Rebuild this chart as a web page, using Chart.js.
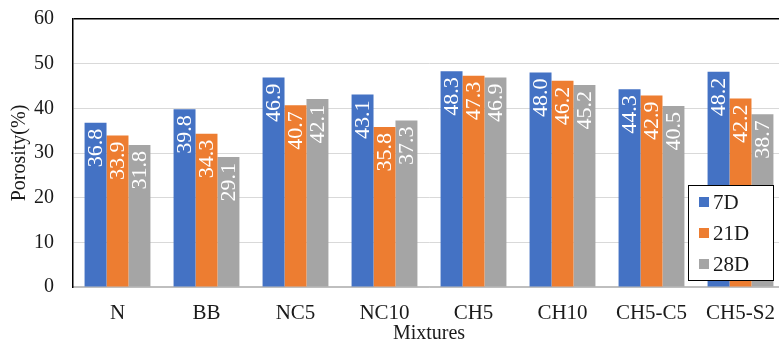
<!DOCTYPE html>
<html>
<head>
<meta charset="utf-8">
<script src="https://cdn.jsdelivr.net/npm/chart.js@4/dist/chart.umd.min.js"></script>
<style>
  html, body { margin: 0; padding: 0; background: #fff; overflow: hidden; }
  #wrap { width: 786px; height: 342px; }
</style>
</head>
<body>
<div id="wrap"><canvas id="c" width="786" height="342"></canvas></div>
<script>
// Porosity of each mixture at 7, 21 and 28 days of curing
const mixtures = ['N', 'BB', 'NC5', 'NC10', 'CH5', 'CH10', 'CH5-C5', 'CH5-S2'];
const seriesNames = ['7D', '21D', '28D'];
const porosity7D  = [36.8, 39.8, 46.9, 43.1, 48.3, 48.0, 44.3, 48.2];
const porosity21D = [33.9, 34.3, 40.7, 35.8, 47.3, 46.2, 42.9, 42.2];
const porosity28D = [31.8, 29.1, 42.1, 37.3, 46.9, 45.2, 40.5, 38.7];
const yTicks = [0, 10, 20, 30, 40, 50, 60];
const colors = ['#4472C4', '#ED7D31', '#A5A5A5'];

const SERIF = '"Liberation Serif", "Times New Roman", serif';

// Values written vertically inside the top of each bar
const barValueLabels = {
  id: 'barValueLabels',
  afterDatasetsDraw(chart) {
    const ctx = chart.ctx;
    ctx.save();
    ctx.fillStyle = '#ffffff';
    ctx.font = '22px ' + SERIF;
    ctx.textAlign = 'right';
    ctx.textBaseline = 'middle';
    chart.data.datasets.forEach((ds, di) => {
      chart.getDatasetMeta(di).data.forEach((bar, i) => {
        ctx.save();
        ctx.translate(bar.x, bar.y);
        ctx.rotate(-Math.PI / 2);
        ctx.fillText(ds.data[i].toFixed(1), -6, 1);
        ctx.restore();
      });
    });
    ctx.restore();
  }
};

// Boxed legend sitting in the lower-right corner of the plot
const boxedLegend = {
  id: 'boxedLegend',
  afterDraw(chart) {
    const ctx = chart.ctx;
    const x0 = 688, y0 = 185, w = 85, h = 95;
    ctx.save();
    ctx.fillStyle = '#ffffff';
    ctx.fillRect(x0, y0, w, h);
    ctx.strokeStyle = '#000000';
    ctx.lineWidth = 1;
    ctx.strokeRect(x0 + 0.5, y0 + 0.5, w, h);
    ctx.font = '21px ' + SERIF;
    ctx.textAlign = 'left';
    ctx.textBaseline = 'middle';
    chart.data.datasets.forEach((ds, i) => {
      const cy = y0 + 17 + i * 31;
      ctx.fillStyle = ds.backgroundColor;
      ctx.fillRect(x0 + 11, cy - 5, 10, 10);
      ctx.fillStyle = '#1a1a1a';
      ctx.fillText(ds.label, x0 + 25, cy + 1);
    });
    ctx.restore();
  }
};

new Chart(document.getElementById('c'), {
  type: 'bar',
  data: {
    labels: mixtures,
    datasets: [porosity7D, porosity21D, porosity28D].map((vals, k) => ({
      label: seriesNames[k],
      data: vals,
      backgroundColor: colors[k],
      borderWidth: 0
    }))
  },
  options: {
    responsive: false,
    animation: false,
    layout: { padding: { top: 19, right: 1, bottom: 0, left: 0 } },
    datasets: { bar: { categoryPercentage: 0.74, barPercentage: 1.0 } },
    plugins: { legend: { display: false }, tooltip: { enabled: false } },
    scales: {
      x: {
        grid: { display: false, drawTicks: false },
        border: { color: '#bfbfbf', width: 1.5 },
        ticks: { color: '#1a1a1a', font: { family: SERIF, size: 21 }, padding: 14, maxRotation: 0 },
        title: { display: true, text: 'Mixtures', color: '#1a1a1a',
                 font: { family: SERIF, size: 20, lineHeight: 1 }, padding: { top: 0, bottom: -2 } },
        afterFit(s) { s.height = 55; s.paddingLeft = 0; s.paddingRight = 0; }
      },
      y: {
        min: 0, max: 60,
        afterBuildTicks(s) { s.ticks = yTicks.map(v => ({ value: v })); },
        grid: {
          drawTicks: false,
          color: c => c.tick && c.tick.value === 60 ? '#000000' : (c.tick && c.tick.value === 0 ? '#bfbfbf' : '#d9d9d9'),
          lineWidth: c => c.tick && c.tick.value === 60 ? 1.5 : 1
        },
        border: { color: '#000000', width: 1.5 },
        ticks: { color: '#1a1a1a', font: { family: SERIF, size: 20 }, padding: 19 },
        title: { display: true, text: 'Porosity(%)', color: '#1a1a1a',
                 font: { family: SERIF, size: 20, lineHeight: 1 }, padding: { top: 10, bottom: 0 } },
        afterFit(s) { s.width = 73; s.paddingTop = 0; s.paddingBottom = 0; }
      }
    }
  },
  plugins: [barValueLabels, boxedLegend]
});
</script>
</body>
</html>
